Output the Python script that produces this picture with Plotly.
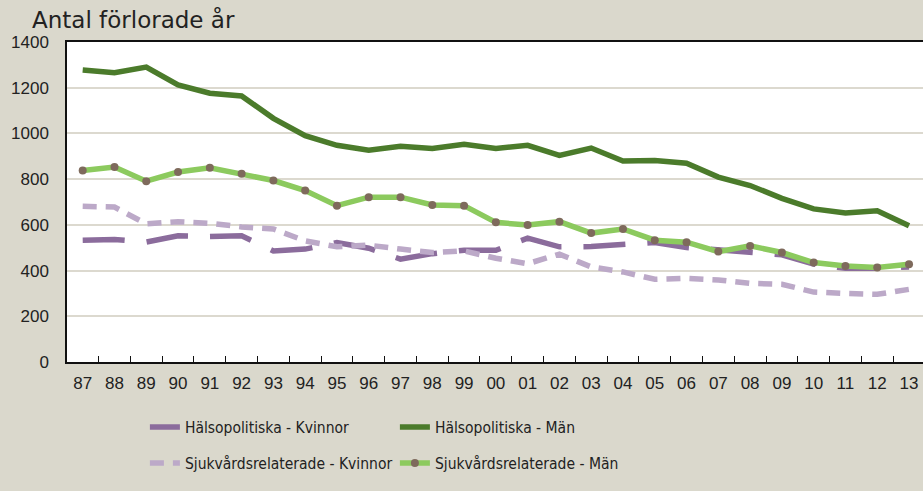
import plotly.graph_objects as go

years = ["87", "88", "89", "90", "91", "92", "93", "94", "95", "96", "97", "98", "99",
         "00", "01", "02", "03", "04", "05", "06", "07", "08", "09", "10", "11", "12", "13"]

halso_kvinnor = [533, 536, 525, 552, 549, 552, 486, 494, 523, 498, 450, 474, 489,
                 489, 542, 504, 505, 513, 523, 501, 489, 483, 469, 428, 410, 410, 416]
halso_man = [1278, 1266, 1290, 1212, 1176, 1164, 1066, 990, 948, 926, 944, 934, 953,
             934, 948, 904, 936, 879, 882, 870, 809, 772, 716, 670, 652, 662, 596]
sjuk_kvinnor = [681, 678, 604, 614, 607, 591, 582, 530, 504, 511, 494, 479, 486,
                454, 430, 472, 416, 394, 362, 366, 359, 344, 340, 306, 300, 296, 318]
sjuk_man = [838, 853, 791, 831, 850, 824, 794, 750, 684, 721, 721, 687, 684,
            611, 599, 614, 564, 582, 533, 524, 483, 508, 479, 435, 420, 413, 428]

names = ["Hälsopolitiska - Kvinnor", "Hälsopolitiska - Män",
         "Sjukvårdsrelaterade - Kvinnor", "Sjukvårdsrelaterade - Män"]
y_ticks = [0, 200, 400, 600, 800, 1000, 1200, 1400]

BG = "#dad8cc"
GRID = "#dcd9cf"
LEG_FONT = dict(family="Liberation Sans Narrow, DejaVu Sans Condensed, Arial", size=15.5, color="#222222")

fig = go.Figure()
fig.add_trace(go.Scatter(x=years, y=halso_kvinnor, name=names[0], mode="lines",
                         line=dict(color="#8b6c9c", width=5.5, dash="42px,22px"),
                         legend="legend"))
fig.add_trace(go.Scatter(x=years, y=halso_man, name=names[1], mode="lines",
                         line=dict(color="#4b7b2b", width=5.5),
                         legend="legend"))
fig.add_trace(go.Scatter(x=years, y=sjuk_kvinnor, name=names[2], mode="lines",
                         line=dict(color="#bca9c8", width=5.5, dash="14px,9px"),
                         legend="legend2"))
fig.add_trace(go.Scatter(x=years, y=sjuk_man, name=names[3], mode="lines+markers",
                         line=dict(color="#8cca5e", width=5.5),
                         marker=dict(color="#7e6a5c", size=8),
                         legend="legend2"))

fig.update_layout(
    width=923, height=491,
    margin=dict(l=67, r=0, t=42, b=129),
    paper_bgcolor=BG, plot_bgcolor="white",
    font=dict(family="Liberation Sans, Arial", size=17, color="#222222"),
    xaxis=dict(type="category", range=[-0.494, 26.44], showgrid=False,
               showline=True, linecolor="#111111", linewidth=1.5, mirror=True,
               ticks="inside", ticklen=6, tickcolor="#111111", tickson="boundaries",
               tickfont=dict(size=17), ticklabelstandoff=5),
    yaxis=dict(range=[0, 1400], tickvals=y_ticks, showgrid=True, gridcolor=GRID, gridwidth=1.5,
               showline=True, linecolor="#111111", linewidth=1.5, zeroline=False,
               ticks="", tickfont=dict(size=17), ticklabelstandoff=13),
    legend=dict(orientation="h", x=0.091, y=-0.2044, xanchor="left", yanchor="middle",
                entrywidth=205, bgcolor="rgba(0,0,0,0)", font=LEG_FONT),
    legend2=dict(orientation="h", x=0.091, y=-0.317, xanchor="left", yanchor="middle",
                 entrywidth=205, bgcolor="rgba(0,0,0,0)", font=LEG_FONT),
    annotations=[dict(text="Antal förlorade år", xref="paper", yref="paper",
                      x=-0.0432, y=1.07, xanchor="left", yanchor="middle",
                      showarrow=False,
                      font=dict(family="DejaVu Sans, Arial", size=23, color="#222222"))],
)

fig.write_html("out.html", config={"displayModeBar": False},
               post_script="document.body.style.margin='0';")
